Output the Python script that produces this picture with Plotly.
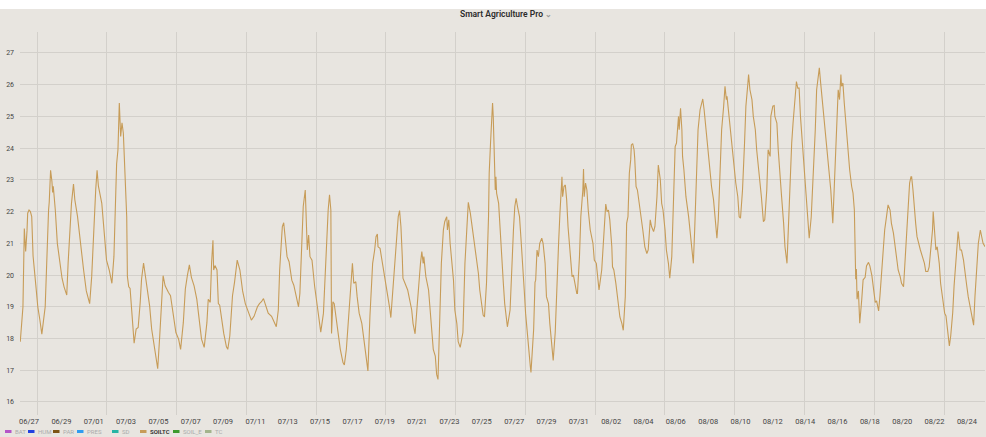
import pandas as pd
import plotly.graph_objects as go

# ---------------- data ----------------
START = "2023-06-27 00:00"   # hour offsets below are counted from this moment

hours = [
    -13, -9, -7, -5, -3, -2, 0, 2, 4, 6,
    10, 13, 16, 19, 24, 26, 29, 30, 32, 34,
    35, 36, 39, 42, 46, 49, 52, 56, 58, 61,
    63, 66, 68, 72, 76, 81, 85, 90, 93, 95,
    98, 99, 101, 103, 108, 111, 115, 119, 123, 126,
    128, 130, 132, 133, 134, 136, 138, 140, 142, 145,
    146, 148, 150, 152, 154, 156, 159, 162, 165, 167,
    170, 172, 175, 179, 182, 187, 191, 194, 197, 199,
    202, 204, 207, 210, 214, 218, 222, 225, 229, 232,
    235, 238, 241, 245, 249, 253, 256, 260, 264, 266,
    269, 271, 273, 274, 276, 279, 281, 283, 286, 289,
    293, 295, 298, 302, 305, 307, 309, 313, 317, 321,
    326, 330, 334, 337, 339, 342, 345, 348, 352, 355,
    360, 364, 367, 370, 372, 375, 376, 378, 381, 383,
    386, 390, 393, 396, 400, 402, 405, 407, 410, 411,
    413, 415, 417, 420, 422, 424, 428, 431, 433, 437,
    439, 442, 444,
    446, 448, 449, 451, 453, 456, 459, 462, 466, 468,
    471, 474, 475, 478, 480, 482, 485, 487, 490, 494,
    497, 500, 503, 506, 509, 510, 513, 515, 517, 518,
    521, 523, 527, 529, 532, 535, 537, 541, 543, 546,
    548, 550, 552, 554, 555, 558, 562, 564, 568, 570,
    573, 576, 579, 581, 583, 585, 586, 589, 593, 595,
    598, 600, 603, 605, 607, 609, 611, 612, 615, 617,
    619, 620, 621, 623, 625, 627, 630, 632, 635, 637,
    640, 644, 647, 650, 652, 655, 657, 659, 662, 664,
    667, 669, 672, 674, 676, 679, 682, 683, 685, 687,
    688, 689, 690, 692, 693, 694, 697, 699, 702, 704,
    706, 709, 710, 714, 716, 719, 721, 723, 725, 728,
    730, 733, 735, 737, 739, 741, 744, 745, 749, 751,
    752, 754, 756, 758, 761, 763, 766, 768, 771, 773,
    776, 778, 781, 783, 786, 788, 791, 792, 794, 796,
    798, 800, 803, 806, 808, 810, 813, 814, 817, 819,
    822, 823, 824, 826, 828, 830, 833, 837, 839, 842,
    844, 846, 850, 852, 855, 856, 858, 860, 862, 865,
    866, 868, 871, 875, 877, 880, 882, 885, 887, 889,
    891, 893, 894, 896, 898, 899, 901, 903, 906, 908,
    911, 914, 917, 919,
    922, 924, 927, 929, 932, 934, 937, 939, 941, 944,
    946, 949, 951, 954, 956, 959, 961, 964, 965, 967,
    969, 970, 972, 975, 979, 981, 984, 986, 988, 991,
    993, 996, 998, 1000, 1002, 1005, 1007, 1010, 1013, 1016,
    1018, 1021, 1023, 1026, 1028, 1031, 1033, 1035, 1036, 1039,
    1043, 1045, 1049, 1052, 1054, 1056, 1059, 1062, 1064, 1067,
    1068, 1070, 1073, 1075, 1078, 1080, 1082, 1085, 1087, 1090,
    1092, 1095, 1097, 1100, 1101, 1104, 1106, 1107, 1110, 1112,
    1115, 1117, 1120, 1122, 1125, 1127, 1129, 1132, 1134, 1137,
    1139, 1141, 1143, 1145, 1148, 1150, 1153, 1156, 1158, 1161,
    1163, 1165, 1167, 1169, 1172, 1173, 1175, 1178, 1181, 1184,
    1187, 1190, 1193, 1195, 1198, 1200, 1201, 1203, 1205, 1206,
    1208, 1210, 1213, 1215, 1218, 1221, 1223, 1225, 1226, 1227,
    1228, 1229, 1231, 1232, 1233, 1236, 1238, 1241, 1243, 1246,
    1248, 1251, 1253, 1256, 1258, 1261, 1263, 1266, 1268, 1270,
    1273, 1275, 1278, 1280, 1283, 1285, 1288, 1290, 1293, 1295,
    1298, 1300, 1303, 1304, 1307, 1309, 1310, 1312, 1314, 1316,
    1318, 1321, 1323, 1326, 1329, 1331, 1334, 1336, 1339, 1341,
    1342, 1344, 1346, 1348, 1351, 1353, 1356, 1359, 1361, 1364,
    1366, 1368, 1371, 1373, 1376, 1377, 1379, 1382, 1384, 1387,
    1389, 1392, 1394, 1397, 1399, 1402, 1404, 1407, 1409, 1412,
    1414, 1416, 1419,
]

soiltc = [
    17.9, 19.0, 21.47, 20.74, 21.4, 21.95, 22.05, 22.0, 21.84, 20.6,
    19.7, 19.0, 18.6, 18.14, 19.0, 20.4, 22.05, 22.3, 23.3, 22.95,
    22.6, 22.8, 22.05, 21.0, 20.37, 19.9, 19.63, 19.37, 20.37, 21.42,
    22.26, 22.87, 22.37, 21.84, 21.0, 20.16, 19.5, 19.1, 19.95, 21.0,
    22.26, 22.7, 23.3, 22.8, 22.26, 21.42, 20.47, 20.16, 19.74, 20.58,
    22.47, 23.5, 23.95, 24.58, 25.42, 24.37, 24.8, 24.47, 23.3, 21.84,
    19.95, 19.63, 19.58, 18.9, 18.42, 17.85, 18.3, 18.35, 19.14, 19.87,
    20.38, 20.08, 19.77, 19.03, 18.3, 17.66, 17.05, 18.08, 19.14, 19.98,
    19.66, 19.56, 19.45, 19.35, 18.82, 18.19, 17.98, 17.66, 18.5, 19.56,
    19.98, 20.32, 19.93, 19.66, 19.24, 18.5, 17.98, 17.72, 18.5, 19.24,
    19.14, 20.4, 21.1, 20.16, 20.3, 20.16, 19.1, 19.05, 18.58, 18.16,
    17.74, 17.66, 18.08, 19.35, 19.77, 20.19, 20.47, 20.16, 19.5, 19.1,
    18.8, 18.58, 18.7, 18.9, 19.0, 19.1, 19.16, 19.26, 19.0, 18.8,
    18.7, 18.53, 18.37, 18.9, 20.16, 21.21, 21.53, 21.65, 21.0, 20.58,
    20.42, 19.84, 19.68, 19.42, 19.0, 19.42, 21.0, 22.16, 22.68, 22.05,
    20.79, 21.26, 20.58, 20.47, 19.95, 19.63, 19.0, 18.47, 18.2, 18.8,
    19.84, 21.2, 22.05,
    22.53, 22.05, 18.16, 19.16, 19.1, 18.58, 18.05, 17.66, 17.24, 17.17,
    17.66, 18.5, 18.93, 19.66, 20.37, 19.74, 19.79, 19.32, 18.8, 18.47,
    17.95, 17.45, 16.98, 18.71, 19.77, 20.37, 20.79, 21.21, 21.29, 20.89,
    20.84, 20.58, 20.16, 19.84, 19.42, 19.0, 18.66, 19.74, 20.58, 21.21,
    21.84, 22.03, 21.53, 20.58, 19.9, 19.74, 19.53, 19.32, 18.9, 18.47,
    18.15, 19.0, 20.05, 20.37, 20.74, 20.37, 20.58, 19.95, 19.53, 18.9,
    18.26, 17.66, 17.45, 16.87, 16.71, 18.19, 19.56, 20.37, 21.42, 21.68,
    21.79, 21.84, 21.42, 21.74, 21.0, 20.58, 19.84, 18.9, 18.47, 17.9,
    17.72, 18.19, 20.37, 21.53, 22.29, 21.95, 21.63, 21.42, 21.0, 20.58,
    20.05, 19.53, 19.0, 18.74, 18.68, 19.74, 21.84, 23.21, 24.16, 25.1,
    25.42, 25.0, 24.26, 22.68, 23.1, 22.58, 22.26, 21.42, 20.58, 19.74,
    19.1, 18.47, 18.37, 18.9, 20.16, 21.42, 22.16, 22.42, 22.16, 21.84,
    21.21, 20.37, 19.53, 18.8, 18.29, 17.66, 17.13, 16.93, 18.29, 19.77,
    19.84, 20.79, 20.58, 21.0, 21.16, 21.0, 20.37, 19.32, 19.1, 18.47,
    17.76, 17.31, 18.19, 19.56, 21.0, 21.95, 23.1, 22.47, 22.79, 22.84,
    22.37, 21.53, 20.58, 19.95, 20.0, 19.74, 19.42, 19.42, 20.58, 21.84,
    22.68, 23.34, 22.47, 22.9, 22.68, 22.05, 21.42, 21.0, 20.47, 20.37,
    19.95, 19.53, 20.16, 20.79, 21.63, 22.24, 22.0, 22.05, 21.74, 20.89,
    20.26, 20.16, 19.74, 19.1, 18.68, 18.47, 18.26, 19.32, 21.63, 21.84,
    23.21, 23.63, 24.1, 24.14, 23.95, 23.68, 22.79, 22.68, 22.26, 21.84,
    21.42, 20.89, 20.68, 20.79,
    21.74, 21.53, 21.37, 21.53, 22.47, 23.47, 23.0, 22.26, 22.05, 21.42,
    20.79, 20.37, 19.9, 20.58, 21.84, 24.05, 24.16, 25.0, 24.58, 25.26,
    24.58, 23.74, 23.32, 22.47, 21.84, 21.42, 21.0, 20.37, 21.42, 23.0,
    24.58, 25.21, 25.37, 25.55, 25.21, 24.58, 23.95, 23.32, 22.79, 22.37,
    21.84, 21.16, 21.74, 23.21, 24.58, 25.32, 25.95, 25.53, 25.63, 25.0,
    24.16, 23.53, 22.9, 22.47, 21.84, 21.79, 22.68, 24.16, 25.32, 26.05,
    26.32, 25.84, 25.53, 25.0, 24.58, 23.95, 23.53, 23.0, 22.47, 21.68,
    21.74, 22.68, 23.95, 23.74, 25.0, 25.32, 25.34, 25.0, 24.79, 23.95,
    23.21, 22.47, 21.63, 20.89, 20.37, 21.63, 22.79, 24.16, 24.79, 25.63,
    26.1, 25.89, 25.89, 25.0, 24.16, 23.53, 22.68, 21.84, 21.16, 21.84,
    22.68, 23.74, 24.58, 25.84, 26.37, 26.53, 26.05, 25.42, 24.68, 23.95,
    23.32, 22.68, 21.63, 22.79, 24.16, 25.42, 25.84, 25.53, 26.32, 25.95,
    26.05, 25.42, 24.58, 23.95, 23.32, 22.79, 22.58, 22.05, 20.37, 19.87,
    20.19, 19.24, 19.5, 18.93, 18.48, 19.24, 19.85, 19.93, 20.29, 20.4,
    20.29, 19.98, 19.56, 19.14, 19.19, 18.87, 19.35, 20.19, 20.68, 21.42,
    21.89, 22.21, 22.05, 21.63, 21.32, 21.0, 20.58, 20.16, 19.95, 19.74,
    19.63, 20.37, 21.63, 21.84, 22.9, 23.1, 23.1, 22.68, 22.05, 21.63,
    21.21, 20.89, 20.79, 20.58, 20.37, 20.11, 20.11, 20.26, 21.0, 21.42,
    22.0, 21.21, 20.79, 20.89, 20.37, 19.74, 19.32, 18.8, 18.71, 18.08,
    17.77, 18.08, 18.82, 19.66, 20.5, 20.79, 21.37, 20.79, 20.79, 20.47,
    20.05, 19.63, 19.32, 19.0, 18.68, 18.42, 19.32, 20.58, 21.0, 21.42,
    21.21, 21.0, 20.89,
]

series_names = ["BAT", "HUM", "PAR", "PRES", "SD", "SOILTC", "SOIL_E", "TC"]
series_colors = ["#b555c8", "#2140e0", "#7d5415", "#2f9cf0",
                 "#27b4a4", "#c79c58", "#3c9a2e", "#a3b48c"]
active_series = "SOILTC"

y_ticks = [16, 17, 18, 19, 20, 21, 22, 23, 24, 25, 26, 27]
TITLE = "Smart Agriculture Pro"

# ---------------- figure ----------------
W, H = 986, 437
ML, MR, MT, MB = 20, 1, 32, 22
PW, PH = W - ML - MR, H - MT - MB

t0 = pd.Timestamp(START)
times = t0 + pd.to_timedelta(hours, unit="h")
x_range = [t0 + pd.Timedelta(hours=-13.4), t0 + pd.Timedelta(hours=1418.9)]

BG = "#e8e5e0"
GRID = "#d3d0cb"
LINE = series_colors[series_names.index(active_series)]

fig = go.Figure()
fig.add_trace(go.Scatter(
    x=times, y=soiltc, mode="lines", name=active_series,
    line=dict(color=LINE, width=1.1), showlegend=False,
))
# empty helper trace so that the second (grid-only) x axis is drawn
fig.add_trace(go.Scatter(x=[], y=[], xaxis="x2", showlegend=False,
                         hoverinfo="skip"))


def px_x(px):
    return (px - ML) / PW


def px_y(py):
    return (H - MB - py) / PH


shapes = [dict(type="rect", xref="paper", yref="paper", layer="below",
               x0=px_x(0), x1=px_x(W), y0=px_y(9), y1=px_y(-1),
               fillcolor="white", line=dict(width=0))]
annotations = []

legend_x = [5, 28, 53, 77, 112, 140, 173, 205]
LEG_Y = 431.5
for name, col, sx in zip(series_names, series_colors, legend_x):
    shapes.append(dict(type="line", xref="paper", yref="paper",
                       x0=px_x(sx), x1=px_x(sx + 6.5),
                       y0=px_y(LEG_Y), y1=px_y(LEG_Y),
                       line=dict(color=col, width=3)))
    is_on = name == active_series
    annotations.append(dict(
        xref="paper", yref="paper", x=px_x(sx + 8), y=px_y(LEG_Y),
        xanchor="left", yanchor="middle", showarrow=False,
        text=name,
        font=dict(family="Roboto", size=6,
                  color="#2b2b2b" if is_on else "#ababab",
                  weight=600 if is_on else 400),
    ))

fig.update_layout(
    width=W, height=H,
    margin=dict(l=ML, r=MR, t=MT, b=MB, pad=0),
    paper_bgcolor=BG, plot_bgcolor=BG,
    font=dict(family="Roboto", color="#444444"),
    title=dict(
        text=TITLE + " <span style='color:#9a9a9a;font-size:8px'>⌄</span>",
        x=506 / W, xanchor="center", xref="container",
        y=1 - 14 / H, yanchor="middle", yref="container",
        font=dict(family="Roboto", size=8.5, color="#2b2b2b", weight=600),
    ),
    xaxis=dict(
        type="date", range=x_range, showgrid=False, zeroline=False,
        showline=False, tickformat="%m/%d", tick0=START,
        dtick=2 * 86400000, ticks="", ticklen=0,
        tickfont=dict(family="Roboto", size=7.5, color="#444444"),
    ),
    xaxis2=dict(
        type="date", overlaying="x", anchor="y", range=x_range,
        showgrid=True, gridcolor=GRID, gridwidth=1,
        tick0=t0 + pd.Timedelta(hours=11.9),
        dtick=103.55 * 3600000, showticklabels=False, ticks="",
        zeroline=False, showline=False,
    ),
    yaxis=dict(
        range=[15.59, 27.66], tickvals=y_ticks, showgrid=True,
        gridcolor=GRID, gridwidth=1, zeroline=False, showline=False,
        ticks="", ticklabelstandoff=5,
        tickfont=dict(family="Roboto", size=7, color="#444444"),
    ),
    shapes=shapes, annotations=annotations, showlegend=False,
    hovermode="x",
)

fig.write_html(
    "out.html",
    config={"displayModeBar": False},
    post_script="document.body.style.margin='0';"
                "document.body.style.overflow='hidden';",
)
